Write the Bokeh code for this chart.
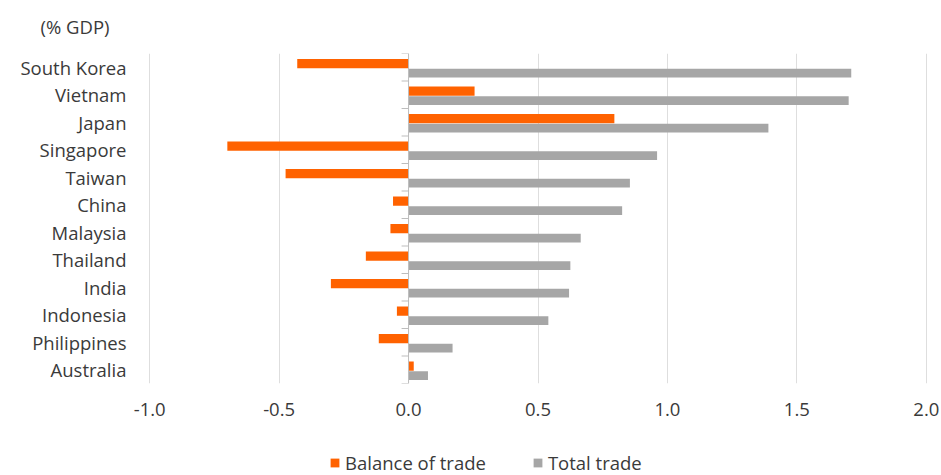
from bokeh.plotting import figure
from bokeh.layouts import column
from bokeh.models import (Range1d, FactorRange, Legend, LegendItem, Span,
                          FixedTicker, PrintfTickFormatter, ColumnDataSource)
from bokeh.transform import dodge
from bokeh.embed import file_html
from bokeh.resources import INLINE

# Trade with the US, % of GDP
countries = ["South Korea", "Vietnam", "Japan", "Singapore", "Taiwan", "China",
             "Malaysia", "Thailand", "India", "Indonesia", "Philippines", "Australia"]
balance_of_trade = [-0.43, 0.255, 0.795, -0.70, -0.475, -0.06,
                    -0.07, -0.165, -0.30, -0.045, -0.115, 0.02]
total_trade = [1.71, 1.70, 1.39, 0.96, 0.855, 0.825,
               0.665, 0.625, 0.62, 0.54, 0.17, 0.075]
x_ticks = [-1.0, -0.5, 0.0, 0.5, 1.0, 1.5, 2.0]

ORANGE = "#FF6200"
GREY = "#A6A6A6"
TEXT = "#3a3a3a"
FONT = "Open Sans"
FS = "18.5px"

src = ColumnDataSource(dict(country=countries, balance=balance_of_trade, total=total_trade))

# header strip carrying the unit note
hdr = figure(width=941, height=53, x_axis_type=None, y_axis_type=None,
             output_backend="svg", toolbar_location=None,
             min_border=0, outline_line_color=None, title="(% GDP)")
hdr.grid.visible = False
hdr.title.align = "left"
hdr.title.offset = -104
hdr.title.standoff = 22
hdr.title.text_font = FONT
hdr.title.text_font_size = FS
hdr.title.text_font_style = "normal"
hdr.title.text_color = TEXT

p = figure(width=941, height=387, title=None,
           y_range=FactorRange(*reversed(countries), range_padding=0),
           x_range=Range1d(-1.02, 2.02),
           output_backend="svg", toolbar_location=None,
           min_border_left=144, min_border_right=10,
           min_border_top=0, min_border_bottom=57)
p.outline_line_color = None

# bars: balance above, total below within each country slot
r_bal = p.hbar(y=dodge("country", 0.13, range=p.y_range), left=0, right="balance",
               height=0.34, fill_color=ORANGE, line_color=None, source=src)
r_tot = p.hbar(y=dodge("country", -0.21, range=p.y_range), left=0, right="total",
               height=0.32, fill_color=GREY, line_color=None, source=src)

# zero axis line with small ticks on the category boundaries
p.add_layout(Span(location=0, dimension="height", line_color="#BDBDBD", line_width=1))
tick_len = 0.027
p.segment(x0=-tick_len, x1=0, y0=dodge("country", 0.5, range=p.y_range),
          y1=dodge("country", 0.5, range=p.y_range), line_color="#BDBDBD", source=src)
p.segment(x0=-tick_len, x1=0, y0=dodge("country", -0.5, range=p.y_range),
          y1=dodge("country", -0.5, range=p.y_range), line_color="#BDBDBD",
          source=ColumnDataSource(dict(country=[countries[-1]])))

# grid
p.xgrid.ticker = FixedTicker(ticks=x_ticks)
p.xgrid.grid_line_color = "#DEDEDE"
p.ygrid.visible = False

# x axis
p.xaxis.ticker = FixedTicker(ticks=x_ticks)
p.xaxis.formatter = PrintfTickFormatter(format="%.1f")
p.xaxis.axis_line_color = None
p.xaxis.major_tick_line_color = None
p.xaxis.minor_tick_line_color = None
p.xaxis.major_label_standoff = 13
p.xaxis.major_label_text_font = FONT
p.xaxis.major_label_text_font_size = FS
p.xaxis.major_label_text_color = TEXT

# y axis
p.yaxis.axis_line_color = None
p.yaxis.major_tick_line_color = None
p.yaxis.major_label_standoff = 12
p.yaxis.major_label_text_font = FONT
p.yaxis.major_label_text_font_size = FS
p.yaxis.major_label_text_color = TEXT

# legend strip under the chart; its swatches come from hidden copies of the bars
lg = figure(width=941, height=35, x_axis_type=None, y_axis_type=None,
            output_backend="svg", toolbar_location=None,
            min_border=0, outline_line_color=None)
lg.grid.visible = False
k_bal = lg.hbar(y=0, left=0, right="balance", height=0.5, fill_color=ORANGE,
                line_color=None, source=src, visible=False)
k_tot = lg.hbar(y=0, left=0, right="total", height=0.5, fill_color=GREY,
                line_color=None, source=src, visible=False)
legend = Legend(items=[LegendItem(label="Balance of trade", renderers=[k_bal]),
                       LegendItem(label="Total trade", renderers=[k_tot])],
                orientation="horizontal", location=(185, 0),
                glyph_width=11, glyph_height=11, label_standoff=5, spacing=46,
                padding=0, margin=0, border_line_color=None,
                background_fill_alpha=0, inactive_fill_alpha=0,
                label_text_font=FONT, label_text_font_size=FS,
                label_text_color=TEXT)
lg.add_layout(legend)

open("out.html", "w").write(file_html(column(hdr, p, lg, spacing=0), INLINE))
